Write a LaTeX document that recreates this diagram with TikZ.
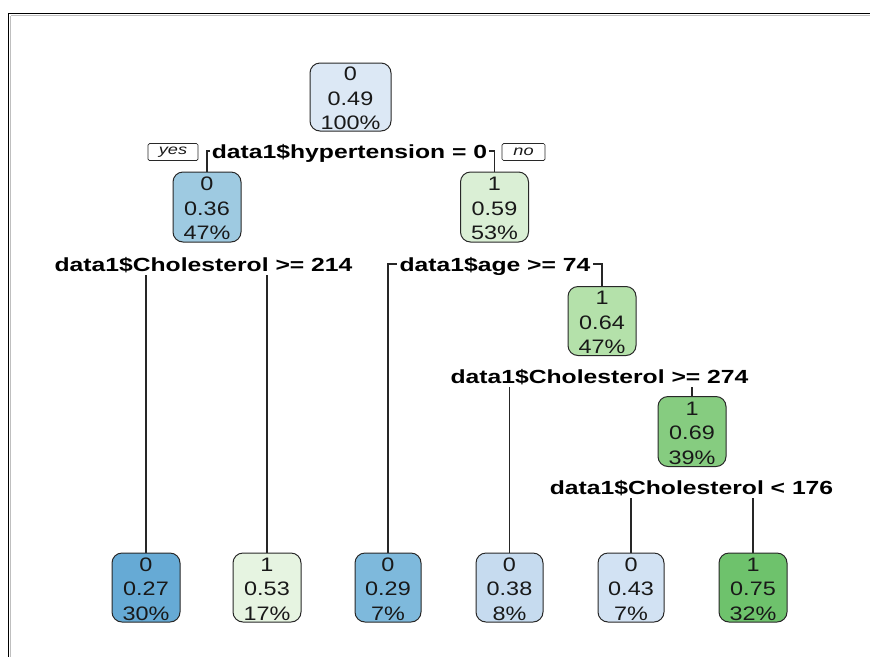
\documentclass[tikz,border=0pt]{standalone}
\usepackage{fontspec}
\setmainfont{Liberation Sans}
\usepackage{graphicx}
\definecolor{cRoot}{RGB}{220,232,245}
\definecolor{cA}{RGB}{158,202,225}
\definecolor{cB}{RGB}{218,239,213}
\definecolor{cC}{RGB}{180,225,170}
\definecolor{cD}{RGB}{134,204,128}
\definecolor{cL1}{RGB}{102,170,213}
\definecolor{cL2}{RGB}{230,244,225}
\definecolor{cL3}{RGB}{126,185,220}
\definecolor{cL4}{RGB}{198,219,239}
\definecolor{cL5}{RGB}{210,226,243}
\definecolor{cL6}{RGB}{110,194,108}
\definecolor{edge}{RGB}{40,40,40}
\definecolor{txt}{RGB}{25,25,25}
\newcommand\boxtext[3]{\smash{\raisebox{-8.5pt}{\scalebox{1.2}[1]{\fontsize{19.5}{24.5}\selectfont\begin{tabular}{@{}c@{}}#1\\#2\\#3\end{tabular}}}}}
\newcommand\lbl[1]{\scalebox{1.3}[1]{\fontsize{19}{22}\selectfont\bfseries #1}}
\newcommand\yn[1]{\scalebox{1.3}[1]{\fontsize{14}{16}\selectfont\itshape #1}}
\tikzset{
  tb/.style={draw=edge, line width=1pt, rounded corners=10pt, minimum width=68pt, minimum height=69pt, inner sep=0pt, text=txt},
  splitlbl/.style={inner sep=0pt, outer sep=0pt, anchor=base, text depth=3.5pt},
  ynbox/.style={draw=edge, line width=0.7pt, rounded corners=1.5pt, minimum height=17pt, inner sep=0pt, text=txt},
  conn/.style={draw=black!85, line width=1.1pt}
}
\begin{document}
\begin{tikzpicture}[x=1pt,y=-1pt]
\useasboundingbox (0,0) rectangle (870,657);
% frame
\draw[black!25, line width=1.5pt] (10.5,15.5) -- (870,15.5);
\draw[black!25, line width=1.5pt] (10.5,15.5) -- (10.5,657);
\draw[black, line width=1.6pt] (8.5,13.3) -- (870,13.3);
\draw[black, line width=1.6pt] (8.5,13.3) -- (8.5,657);

% nodes
\node[tb, fill=cRoot, minimum width=81pt, minimum height=68pt] (root) at (350.5,97) {\boxtext{0}{0.49}{100\%}};
\node[tb, fill=cA, minimum height=70pt] (L1) at (207,207) {\boxtext{0}{0.36}{47\%}};
\node[tb, fill=cB, minimum height=70pt] (R1) at (494.5,207) {\boxtext{1}{0.59}{53\%}};
\node[tb, fill=cC] (N64) at (602,321) {\boxtext{1}{0.64}{47\%}};
\node[tb, fill=cD, minimum height=70pt] (N69) at (692,431.5) {\boxtext{1}{0.69}{39\%}};

\node[tb, fill=cL1] (lf1) at (146,587.5) {\boxtext{0}{0.27}{30\%}};
\node[tb, fill=cL2] (lf2) at (267,587.5) {\boxtext{1}{0.53}{17\%}};
\node[tb, fill=cL3, minimum width=66pt] (lf3) at (388,587.5) {\boxtext{0}{0.29}{7\%}};
\node[tb, fill=cL4, minimum width=67pt] (lf4) at (509.5,587.5) {\boxtext{0}{0.38}{8\%}};
\node[tb, fill=cL5, minimum width=66pt] (lf5) at (631,587.5) {\boxtext{0}{0.43}{7\%}};
\node[tb, fill=cL6] (lf6) at (753,587.5) {\boxtext{1}{0.75}{32\%}};

% split labels
\node[splitlbl] (hyp) at (349.5,158) {\lbl{data1\$hypertension = 0}};
\node[splitlbl] (c214) at (203.5,271) {\lbl{data1\$Cholesterol >= 214}};
\node[splitlbl] (age) at (495,271) {\lbl{data1\$age >= 74}};
\node[splitlbl] (c274) at (599.5,383) {\lbl{data1\$Cholesterol >= 274}};
\node[splitlbl] (c176) at (691.5,494) {\lbl{data1\$Cholesterol < 176}};

\node[ynbox, minimum width=50pt] (yes) at (173,152) {\yn{yes}};
\node[ynbox, minimum width=43pt] (no) at (523.5,152) {\yn{no}};

% connectors
\draw[conn] (L1.north) |- ([xshift=-1.5pt,yshift=7pt]hyp.base west);
\draw[conn] (R1.north) |- ([xshift=1.5pt,yshift=7pt]hyp.base east);
\draw[conn] (lf1.north) -- (lf1.north |- c214.south);
\draw[conn] (lf2.north) -- (lf2.north |- c214.south);
\draw[conn] (lf3.north) |- ([xshift=-3pt,yshift=7pt]age.base west);
\draw[conn] (N64.north) |- ([xshift=3pt,yshift=7pt]age.base east);
\draw[conn] (lf4.north) -- (lf4.north |- c274.south);
\draw[conn] (N69.north) -- (N69.north |- c274.south);
\draw[conn] (lf5.north) -- (lf5.north |- c176.south);
\draw[conn] (lf6.north) -- (lf6.north |- c176.south);
\end{tikzpicture}
\end{document}
